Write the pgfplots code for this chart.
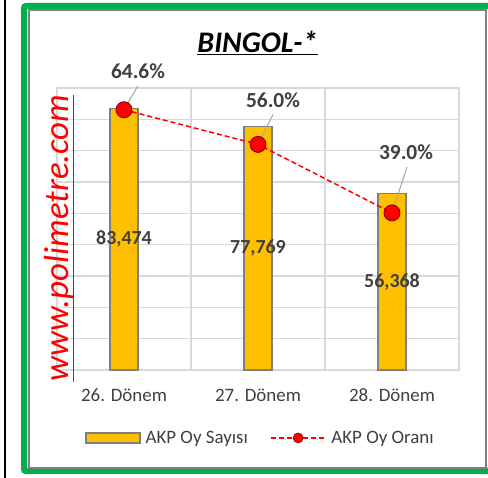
\documentclass[border=0pt]{standalone}
\usepackage{pgfplots}
\pgfplotsset{compat=1.18}
\usepackage{fontspec}
\setmainfont{Carlito}
\definecolor{barfill}{HTML}{FFC000}
\definecolor{bardraw}{HTML}{7F7F7F}
\definecolor{gridc}{HTML}{D9D9D9}
\definecolor{txt}{HTML}{404040}
\definecolor{frameg}{HTML}{00B050}
\definecolor{frameline}{HTML}{808080}
\definecolor{leadg}{HTML}{A6A6A6}
\definecolor{darkred}{HTML}{7F0000}
\pgfplotsset{
  barlegend/.style={legend image code/.code={\draw[fill=barfill, draw=bardraw, line width=1.5bp] (0bp,-5bp) rectangle (54bp,5bp);}},
  linelegend/.style={legend image code/.code={\draw[red, line width=1.5bp, dash pattern=on 5bp off 3bp] (0bp,0bp) -- (55bp,0bp); \filldraw[fill=red, draw=darkred, line width=0.6bp, solid] (27.5bp,0bp) circle (5bp);}},
}
\begin{document}
\begin{tikzpicture}
\begin{scope}[x=1bp,y=1bp]
\path[use as bounding box] (0,0) rectangle (488,478);
\fill[white] (0,0) rectangle (488,478);
\draw[black, line width=2bp] (5,0) -- (5,478);
\draw[frameg, line width=6bp, rounded corners=2bp] (24,7) rectangle (498,472);
\draw[frameline, line width=2bp] (28.5,10.3) rectangle (485.5,467.5);
% title
\node[font=\fontsize{30}{30}\selectfont\bfseries\itshape, anchor=base, inner sep=0pt] at (257.5,425) {\underline{BINGOL-*}};
\end{scope}

\begin{axis}[
  at={(57bp,108bp)}, anchor=south west, scale only axis,
  width=402bp, height=282bp,
  xmin=-0.5, xmax=2.5, ymin=0, ymax=90000,
  xtick={0,1,2}, xticklabels={26. Dönem,27. Dönem,28. Dönem},
  minor xtick={0.5,1.5},
  ytick={0,10000,...,90000}, yticklabels={}, scaled y ticks=false,
  ymajorgrids, xminorgrids,
  grid style={gridc, line width=1.5bp},
  minor grid style={gridc, line width=1.5bp},
  axis line style={gridc, line width=1.5bp},
  major tick length=0, minor tick length=0,
  xticklabel style={font=\fontsize{19}{19}\selectfont, text=txt, anchor=base, yshift=-31.7bp},
  clip=false,
]
\addplot[ybar, bar width=28bp, fill=barfill, draw=bardraw, line width=1.5bp,
  nodes near coords,
  /pgf/number format/assume math mode=true,
  nodes near coords={\pgfmathprintnumber[fixed,precision=0,1000 sep={,}]{\pgfplotspointmeta}},
  visualization depends on={y \as \rawy},
  every node near coord/.append style={anchor=center, font=\fontsize{20}{20}\selectfont\bfseries, text=txt, shift={(axis direction cs:0,-\rawy/2)}},
] coordinates {(0,83474) (1,77769) (2,56368)};
\end{axis}

\begin{axis}[
  at={(57bp,108bp)}, anchor=south west, scale only axis,
  width=402bp, height=282bp,
  xmin=-0.5, xmax=2.5, ymin=0, ymax=70,
  hide axis, clip=false,
  legend style={at={(0.506,-0.241)}, anchor=center, draw=none, fill=none,
    font=\fontsize{19}{19}\selectfont, text=txt, legend columns=2,
    /tikz/every odd column/.append style={column sep=3bp},
    /tikz/every even column/.append style={column sep=20bp}},
]
\addlegendimage{barlegend}
\addlegendentry{AKP Oy Sayısı}
\addplot[quiver={u=\thisrow{u}, v=\thisrow{v}}, draw=leadg, line width=1bp, forget plot] table {
x y u v
0 64.6 0.104 5.96
1 56.0 0.112 7.44
2 39.0 0.112 11.4
};
\addplot[red, line width=1.5bp, dash pattern=on 5bp off 3bp, mark=*, mark size=8bp,
  mark options={solid, fill=red, draw=darkred, line width=0.8bp},
  linelegend,
  nodes near coords,
  /pgf/number format/assume math mode=true,
  nodes near coords={\pgfmathprintnumber[fixed,fixed zerofill,precision=1]{\pgfplotspointmeta}\%},
  visualization depends on={value \thisrow{dx} \as \dx},
  visualization depends on={value \thisrow{dy} \as \dy},
  every node near coord/.append style={anchor=center, font=\fontsize{21.5}{21.5}\selectfont\bfseries, text=txt, xshift=\dx bp, yshift=\dy bp},
] table[x=x, y=y, meta=y] {
x y dx dy
0 64.6 14 38.5
1 56.0 15 44
2 39.0 14 61
};
\addlegendentry{AKP Oy Oranı}
\end{axis}

\begin{scope}[x=1bp,y=1bp]
% watermark
\node[rotate=90, text=red, font=\fontsize{35}{35}\selectfont\itshape, inner sep=0pt] at (59,240) {www.polimetre.com};
\draw[red, line width=0.8bp] (73,96) -- (73,383);
\end{scope}
\end{tikzpicture}
\end{document}
